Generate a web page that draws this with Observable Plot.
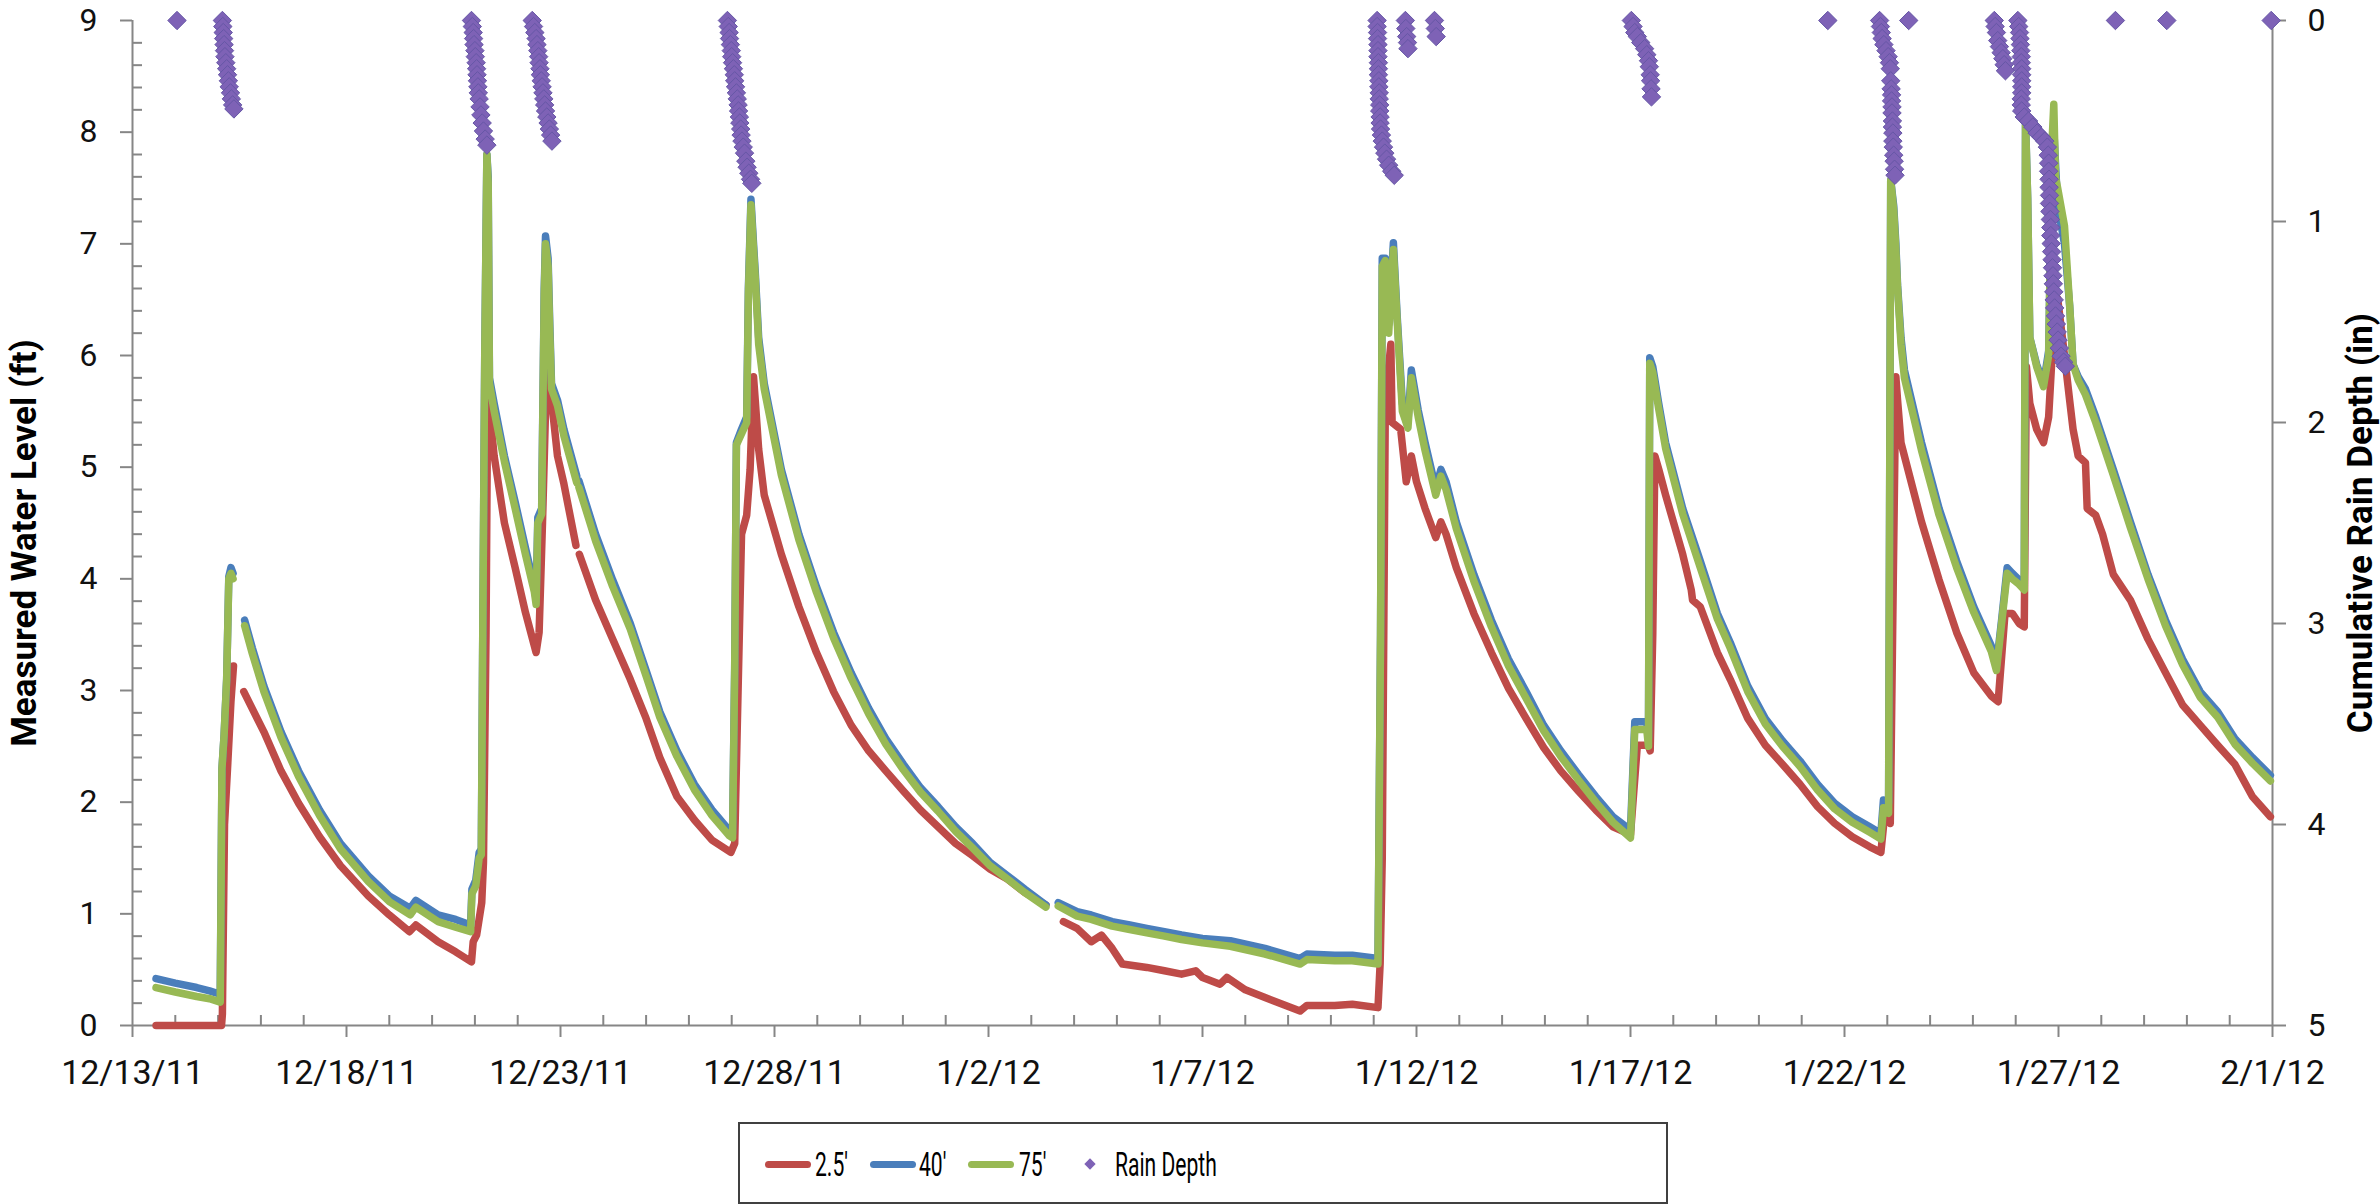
<!DOCTYPE html>
<html><head><meta charset="utf-8">
<script src="https://cdn.jsdelivr.net/npm/d3@7"></script>
<script src="https://cdn.jsdelivr.net/npm/@observablehq/plot@0.6"></script>
<style>
body{margin:0;background:#fff;}
#wrap{position:relative;width:2380px;height:1204px;overflow:hidden;background:#fff;font-family:Roboto,sans-serif;}
#legend{position:absolute;left:738px;top:1122px;width:930px;height:82px;border:2px solid #404040;box-sizing:border-box;background:#fff;}
.sw{position:absolute;top:37px;height:7px;border-radius:4px;}
.lt{position:absolute;top:20px;font-size:34px;line-height:40px;color:#000;transform:scaleX(0.62);transform-origin:left center;white-space:nowrap;}
.dm{position:absolute;width:8px;height:8px;background:#7e62b6;transform:rotate(45deg);}
</style></head><body><div id="wrap"></div>
<script>
// ---- data (day offsets from 12/13/11 00:00) ----
const startDate = "2011-12-13";
const endDate = "2012-02-01";
const xTicks = ["2011-12-13","2011-12-18","2011-12-23","2011-12-28","2012-01-02","2012-01-07","2012-01-12","2012-01-17","2012-01-22","2012-01-27","2012-02-01"];
const leftTicks = [0,1,2,3,4,5,6,7,8,9];
const rainTicks = [0,1,2,3,4,5];
const seriesNames = ["2.5'", "40'", "75'", "Rain Depth"];
const leftTitle = "Measured Water Level (ft)";
const rightTitle = "Cumulative Rain Depth (in)";

const level25 = [
[0.55,0],[1.0,0],[1.5,0],[2.08,0],[2.1,0.1],[2.15,1.8],[2.22,2.3],[2.3,2.9],[2.36,3.22],
[2.45,null],
[2.6,2.99],[3.07,2.63],[3.47,2.28],[3.88,1.99],[4.37,1.69],[4.86,1.43],[5.51,1.16],[6.0,0.99],[6.47,0.84],[6.62,0.9],[7.14,0.75],[7.55,0.66],[7.92,0.57],
[7.96,0.75],[8.04,0.81],[8.16,1.1],[8.2,1.46],[8.26,3.5],[8.3,5.8],[8.33,5.57],[8.45,5.1],[8.69,4.5],[8.94,4.1],[9.18,3.7],[9.43,3.34],[9.5,3.52],[9.58,4.51],[9.65,5.5],[9.71,6.22],[9.79,5.6],[9.93,5.1],[10.08,4.85],[10.36,4.3],[10.4,null],[10.44,4.22],[10.82,3.81],[11.22,3.46],[11.63,3.1],[12.0,2.75],[12.32,2.4],[12.72,2.05],[13.13,1.84],[13.54,1.66],[13.98,1.55],
[14.07,1.63],[14.12,2.5],[14.23,4.4],[14.35,4.57],[14.43,4.98],[14.51,5.81],[14.55,5.6],[14.63,5.16],[14.76,4.75],[15.16,4.22],[15.57,3.75],[15.98,3.34],[16.38,2.99],[16.79,2.69],[17.2,2.46],[17.6,2.28],[18.01,2.1],[18.41,1.93],[18.82,1.78],[19.23,1.63],[19.63,1.52],[20.04,1.4],[20.45,1.31],[20.85,1.19],[21.34,1.08],[21.45,null],[21.75,0.93],[22.07,0.87],[22.4,0.75],[22.64,0.81],[22.89,0.69],[23.13,0.55],[23.7,0.52],[24.11,0.49],[24.51,0.46],[24.84,0.49],[25.0,0.43],[25.41,0.37],[25.57,0.43],[26.0,0.32],[26.46,0.25],[27.28,0.13],[27.44,0.18],[28.09,0.18],[28.5,0.19],[29.1,0.16],
[29.15,0.55],[29.2,1.5],[29.27,5.5],[29.35,5.9],[29.4,6.1],[29.43,5.4],[29.63,5.34],[29.76,4.87],[29.88,5.1],[30.0,4.87],[30.2,4.63],[30.45,4.37],[30.57,4.51],[30.69,4.4],[30.93,4.1],[31.34,3.69],[31.75,3.34],[32.15,3.02],[32.56,2.75],[32.97,2.49],[33.37,2.28],[33.78,2.1],[34.19,1.93],[34.59,1.78],[35.0,1.71],
[35.16,2.51],[35.41,2.51],[35.46,2.46],[35.52,3.5],[35.57,5.1],[35.66,4.98],[35.82,4.75],[36.22,4.22],[36.42,3.9],[36.45,3.81],[36.63,3.75],[37.03,3.34],[37.33,3.1],[37.74,2.75],[38.15,2.51],[38.55,2.34],[38.96,2.16],[39.37,1.96],[39.77,1.81],[40.18,1.69],[40.59,1.6],[40.85,1.55],
[40.95,1.93],[41.07,1.81],[41.14,4.0],[41.2,5.81],[41.24,5.6],[41.32,5.22],[41.4,5.1],[41.8,4.51],[42.21,3.99],[42.62,3.52],[43.02,3.16],[43.43,2.95],[43.59,2.9],[43.75,3.69],[43.92,3.69],[44.08,3.6],[44.2,3.57],
[44.25,5.9],[44.33,5.57],[44.49,5.34],[44.65,5.22],[44.77,5.45],[44.85,6.0],[44.98,6.51],[45.14,6.0],[45.26,5.6],[45.34,5.34],[45.46,5.1],[45.63,5.04],[45.67,4.63],[45.87,4.57],[46.03,4.4],[46.28,4.04],[46.68,3.81],[47.09,3.46],[47.5,3.16],[47.9,2.87],[48.31,2.69],[48.72,2.51],[49.12,2.34],[49.53,2.05],[49.95,1.87]
];

const level40 = [
[0.55,0.42],[1.0,0.38],[1.5,0.34],[1.8,0.31],[2.05,0.28],
[2.09,2.3],[2.14,2.6],[2.2,3.1],[2.25,4.02],[2.3,4.1],[2.35,4.05],
[2.45,null],
[2.62,3.63],[2.8,3.38],[3.07,3.04],[3.47,2.63],[3.88,2.28],[4.37,1.93],[4.86,1.63],[5.51,1.34],[6.0,1.16],[6.49,1.05],[6.62,1.12],[7.14,0.99],[7.55,0.95],[7.9,0.9],
[7.93,1.22],[8.02,1.3],[8.1,1.55],[8.15,1.58],[8.18,3.3],[8.23,6.0],[8.28,7.8],[8.31,7.6],[8.34,5.8],[8.45,5.57],[8.69,5.1],[8.94,4.69],[9.18,4.28],[9.39,3.93],[9.43,3.81],[9.47,4.55],[9.56,4.63],[9.62,6.6],[9.65,7.07],[9.71,6.87],[9.75,6.28],[9.79,5.75],[9.93,5.6],[10.08,5.34],[10.38,4.92],[10.4,null],[10.43,4.88],[10.82,4.4],[11.22,3.99],[11.63,3.6],[12.0,3.18],[12.32,2.81],[12.72,2.46],[13.13,2.16],[13.54,1.93],[13.94,1.75],[14.02,1.72],
[14.07,3.2],[14.11,5.22],[14.23,5.34],[14.35,5.45],[14.39,6.6],[14.45,7.4],[14.51,7.0],[14.55,6.75],[14.63,6.16],[14.76,5.75],[15.16,4.98],[15.57,4.4],[15.98,3.93],[16.38,3.52],[16.79,3.16],[17.2,2.84],[17.6,2.57],[18.01,2.34],[18.41,2.13],[18.82,1.96],[19.23,1.78],[19.63,1.63],[20.04,1.46],[20.45,1.34],[20.85,1.22],[21.34,1.08],[21.45,null],[21.63,1.1],[22.07,1.02],[22.4,0.99],[22.89,0.93],[23.3,0.9],[23.7,0.87],[24.11,0.84],[24.51,0.81],[25.0,0.78],[25.65,0.76],[26.46,0.69],[27.28,0.6],[27.44,0.64],[28.09,0.63],[28.5,0.63],[29.1,0.6],
[29.16,3.5],[29.2,6.87],[29.27,6.87],[29.35,6.28],[29.46,7.01],[29.55,6.34],[29.67,5.57],[29.8,5.4],[29.88,5.87],[30.04,5.51],[30.2,5.22],[30.45,4.81],[30.57,4.98],[30.69,4.87],[30.93,4.51],[31.34,4.04],[31.75,3.63],[32.15,3.28],[32.56,2.99],[32.97,2.69],[33.37,2.46],[33.78,2.25],[34.19,2.05],[34.59,1.87],[35.0,1.75],
[35.1,2.72],[35.38,2.72],[35.42,2.57],[35.45,5.98],[35.52,5.9],[35.66,5.57],[35.82,5.22],[36.22,4.63],[36.63,4.16],[37.03,3.69],[37.33,3.43],[37.74,3.04],[38.15,2.75],[38.55,2.55],[38.96,2.37],[39.37,2.16],[39.77,1.99],[40.18,1.87],[40.59,1.78],[40.85,1.72],
[40.91,2.02],[41.03,1.99],[41.08,7.57],[41.15,7.34],[41.2,7.0],[41.24,6.63],[41.32,6.16],[41.4,5.87],[41.8,5.22],[42.21,4.63],[42.62,4.16],[43.02,3.75],[43.43,3.4],[43.55,3.22],[43.67,3.63],[43.8,4.1],[43.92,4.05],[44.08,3.99],[44.2,3.93],
[44.23,8.1],[44.28,7.4],[44.33,6.16],[44.49,5.92],[44.65,5.75],[44.77,6.04],[44.85,7.8],[44.9,7.95],[44.98,7.34],[45.14,7.0],[45.26,6.45],[45.34,5.92],[45.46,5.81],[45.63,5.7],[45.87,5.45],[46.28,4.98],[46.68,4.51],[47.09,4.04],[47.5,3.63],[47.9,3.28],[48.31,2.99],[48.72,2.81],[49.12,2.57],[49.53,2.4],[49.95,2.24]
];

const level75 = [
[0.55,0.34],[1.0,0.3],[1.5,0.26],[1.8,0.24],[2.05,0.21],
[2.09,2.3],[2.14,2.6],[2.2,3.1],[2.25,4.0],[2.3,4.05],[2.35,4.0],
[2.45,null],
[2.62,3.58],[2.8,3.33],[3.07,2.99],[3.47,2.58],[3.88,2.23],[4.37,1.88],[4.86,1.58],[5.51,1.29],[6.0,1.11],[6.49,0.99],[6.62,1.06],[7.14,0.93],[7.55,0.88],[7.9,0.84],
[7.93,1.18],[8.02,1.25],[8.1,1.5],[8.15,1.53],[8.18,3.3],[8.23,6.0],[8.28,7.8],[8.31,7.55],[8.34,5.75],[8.45,5.5],[8.69,5.05],[8.94,4.63],[9.18,4.22],[9.39,3.88],[9.43,3.77],[9.47,4.5],[9.56,4.58],[9.62,6.55],[9.65,7.0],[9.71,6.8],[9.75,6.2],[9.79,5.7],[9.93,5.55],[10.08,5.28],[10.38,4.86],[10.4,null],[10.43,4.82],[10.82,4.34],[11.22,3.93],[11.63,3.55],[12.0,3.13],[12.32,2.76],[12.72,2.41],[13.13,2.11],[13.54,1.88],[13.94,1.7],[14.02,1.68],
[14.07,3.2],[14.11,5.2],[14.23,5.3],[14.35,5.4],[14.39,6.55],[14.45,7.35],[14.51,6.95],[14.55,6.7],[14.63,6.1],[14.76,5.7],[15.16,4.93],[15.57,4.35],[15.98,3.88],[16.38,3.47],[16.79,3.11],[17.2,2.79],[17.6,2.52],[18.01,2.29],[18.41,2.09],[18.82,1.92],[19.23,1.74],[19.63,1.59],[20.04,1.43],[20.45,1.31],[20.85,1.19],[21.34,1.06],[21.45,null],[21.63,1.07],[22.07,0.98],[22.4,0.95],[22.89,0.89],[23.3,0.86],[23.7,0.83],[24.11,0.8],[24.51,0.77],[25.0,0.74],[25.65,0.71],[26.46,0.64],[27.28,0.55],[27.44,0.59],[28.09,0.58],[28.5,0.58],[29.1,0.55],
[29.16,3.5],[29.2,6.8],[29.27,6.85],[29.35,6.2],[29.46,6.95],[29.55,6.3],[29.67,5.5],[29.8,5.35],[29.88,5.8],[30.04,5.45],[30.2,5.15],[30.45,4.75],[30.57,4.92],[30.69,4.8],[30.93,4.45],[31.34,3.98],[31.75,3.57],[32.15,3.22],[32.56,2.93],[32.97,2.64],[33.37,2.41],[33.78,2.2],[34.19,2.0],[34.59,1.82],[35.0,1.68],
[35.1,2.65],[35.38,2.65],[35.42,2.5],[35.45,5.93],[35.52,5.85],[35.66,5.52],[35.82,5.17],[36.22,4.58],[36.63,4.1],[37.03,3.64],[37.33,3.38],[37.74,2.99],[38.15,2.7],[38.55,2.5],[38.96,2.32],[39.37,2.11],[39.77,1.94],[40.18,1.82],[40.59,1.73],[40.85,1.67],
[40.91,1.95],[41.03,1.9],[41.08,7.57],[41.15,7.3],[41.2,6.95],[41.24,6.6],[41.32,6.1],[41.4,5.8],[41.8,5.15],[42.21,4.57],[42.62,4.1],[43.02,3.7],[43.43,3.35],[43.55,3.18],[43.67,3.6],[43.8,4.05],[43.92,4.0],[44.08,3.95],[44.2,3.9],
[44.23,8.1],[44.28,7.4],[44.33,6.16],[44.49,5.9],[44.65,5.72],[44.77,6.0],[44.85,7.92],[44.89,8.25],[44.93,7.6],[44.98,7.5],[45.14,7.16],[45.26,6.45],[45.34,5.92],[45.46,5.78],[45.63,5.65],[45.87,5.4],[46.28,4.93],[46.68,4.46],[47.09,4.0],[47.5,3.58],[47.9,3.23],[48.31,2.94],[48.72,2.76],[49.12,2.52],[49.53,2.35],[49.95,2.19]
];

// cumulative rain depth (in) per storm: [day, depth]
const rainDepth = [
[1.04,0],
[2.10,0],[2.11,0.03],[2.12,0.06],[2.13,0.09],[2.14,0.12],[2.15,0.15],[2.16,0.18],[2.18,0.21],[2.2,0.24],[2.22,0.27],[2.24,0.3],[2.26,0.33],[2.29,0.36],[2.31,0.39],[2.34,0.42],[2.37,0.44],
[7.92,0],[7.94,0.03],[7.96,0.06],[7.97,0.09],[7.98,0.12],[8.0,0.15],[8.01,0.18],[8.03,0.21],[8.04,0.24],[8.05,0.27],[8.06,0.3],[8.07,0.33],[8.08,0.36],[8.1,0.39],[8.12,0.43],[8.14,0.47],[8.17,0.51],[8.2,0.55],[8.24,0.59],[8.28,0.62],
[9.34,0],[9.37,0.03],[9.4,0.06],[9.43,0.09],[9.45,0.12],[9.47,0.15],[9.49,0.18],[9.5,0.21],[9.52,0.24],[9.53,0.27],[9.55,0.3],[9.57,0.33],[9.59,0.36],[9.61,0.39],[9.63,0.42],[9.65,0.45],[9.68,0.48],[9.71,0.51],[9.74,0.54],[9.77,0.57],[9.8,0.6],
[13.9,0],[13.92,0.03],[13.94,0.06],[13.95,0.09],[13.97,0.12],[13.99,0.15],[14.0,0.18],[14.02,0.21],[14.04,0.24],[14.06,0.27],[14.07,0.3],[14.09,0.33],[14.11,0.36],[14.13,0.39],[14.15,0.42],[14.16,0.45],[14.18,0.48],[14.19,0.51],[14.21,0.54],[14.22,0.57],[14.24,0.6],[14.27,0.63],[14.3,0.66],[14.33,0.7],[14.36,0.73],[14.4,0.76],[14.44,0.79],[14.47,0.81],
[29.08,0],[29.08,0.03],[29.09,0.06],[29.09,0.09],[29.1,0.12],[29.1,0.15],[29.1,0.18],[29.11,0.21],[29.11,0.24],[29.11,0.27],[29.12,0.3],[29.12,0.33],[29.13,0.36],[29.13,0.39],[29.14,0.42],[29.14,0.45],[29.15,0.48],[29.15,0.51],[29.16,0.54],[29.18,0.57],[29.2,0.6],[29.23,0.63],[29.26,0.66],[29.3,0.69],[29.35,0.72],[29.42,0.75],[29.48,0.77],
[29.74,0],[29.75,0.04],[29.77,0.08],[29.79,0.11],[29.8,0.14],
[30.42,0],[30.44,0.04],[30.46,0.08],
[35.02,0],[35.06,0.03],[35.1,0.06],[35.16,0.08],[35.24,0.11],[35.33,0.14],[35.38,0.17],[35.42,0.2],[35.44,0.23],[35.46,0.27],[35.47,0.3],[35.48,0.34],[35.49,0.38],
[39.61,0],
[40.82,0],[40.84,0.03],[40.86,0.06],[40.88,0.09],[40.92,0.12],[40.97,0.15],[41.02,0.18],[41.05,0.21],[41.07,0.24],[41.08,0.3],[41.09,0.34],[41.1,0.37],[41.1,0.4],[41.11,0.43],[41.11,0.46],[41.12,0.5],[41.12,0.53],[41.13,0.56],[41.13,0.6],[41.14,0.63],[41.15,0.67],[41.16,0.7],[41.17,0.74],[41.18,0.77],
[41.5,0],
[43.5,0],[43.52,0.03],[43.55,0.06],[43.58,0.1],[43.62,0.13],[43.66,0.16],[43.7,0.19],[43.73,0.22],[43.76,0.25],
[44.05,0],[44.07,0.03],[44.09,0.06],[44.1,0.09],[44.11,0.12],[44.12,0.15],[44.13,0.18],[44.13,0.21],[44.14,0.24],[44.14,0.27],[44.14,0.3],[44.14,0.33],[44.14,0.36],[44.13,0.39],[44.13,0.42],[44.14,0.45],[44.2,0.48],[44.3,0.5],[44.4,0.53],[44.5,0.56],[44.6,0.58],[44.68,0.6],[44.74,0.63],[44.76,0.67],[44.77,0.71],[44.77,0.75],[44.78,0.79],[44.78,0.83],[44.79,0.87],[44.79,0.91],[44.8,0.95],[44.81,0.99],[44.82,1.03],[44.82,1.07],[44.83,1.11],[44.84,1.15],[44.85,1.19],[44.86,1.23],[44.87,1.27],[44.88,1.31],[44.89,1.35],[44.9,1.39],[44.91,1.43],[44.93,1.47],[44.95,1.51],[44.97,1.55],[44.99,1.59],[45.02,1.63],[45.06,1.67],[45.12,1.7],[45.16,1.72],
[46.33,0],[47.53,0],[49.97,0]
];

const colors = {red: "#be4b48", blue: "#4a7ebb", green: "#98b954", rain: "#7e62b6"};

// ---- helpers ----
const base = new Date(startDate).getTime();
const toDate = d => new Date(base + d * 864e5);
const yMax = 9, rainMax = 5;
const rainToY = r => yMax - r * (yMax / rainMax);

const xDomain = [new Date(startDate), new Date(endDate)];
const dayTicks = d3.utcDay.range(xDomain[0], d3.utcDay.offset(xDomain[1], 1)).filter(d => !xTicks.includes(d3.utcFormat("%Y-%m-%d")(d)));
const leftMinor = d3.range(0, 45).map(i => i / 5).filter(v => v % 1 !== 0);
const fmt = d3.utcFormat("%-m/%-d/%y");
const axisGray = "#868686";

const series = [[level25, colors.red], [level40, colors.blue], [level75, colors.green]];

const chart = Plot.plot({
  width: 2380, height: 1110,
  marginLeft: 132, marginRight: 108, marginTop: 20, marginBottom: 85,
  style: {fontFamily: 'Roboto, sans-serif', fontSize: "32px", color: "#111", background: "white", overflow: "visible"},
  x: {type: "utc", domain: xDomain},
  y: {domain: [0, yMax]},
  marks: [
    Plot.axisY(leftMinor, {anchor: "left", tickSize: 10, dx: 10, fill: "none", stroke: axisGray, strokeWidth: 2}),
    Plot.axisY(leftTicks, {anchor: "left", tickSize: 12, tickPadding: 23, stroke: axisGray, strokeWidth: 2, fill: "#111", label: null, tickFormat: d => String(d)}),
    Plot.axisY(rainTicks.map(rainToY), {anchor: "right", tickSize: 13, tickPadding: 22, stroke: axisGray, strokeWidth: 2, fill: "#111", label: null, tickFormat: v => String(Math.round((yMax - v) * rainMax / yMax))}),
    Plot.axisX(dayTicks, {anchor: "bottom", tickSize: 10, dy: -10, fill: "none", stroke: axisGray, strokeWidth: 2}),
    Plot.axisX(xTicks.map(s => new Date(s)), {anchor: "bottom", tickSize: 12, tickPadding: 22, fontSize: 34, stroke: axisGray, strokeWidth: 2, fill: "#111", label: null, tickFormat: fmt}),
    Plot.ruleX([xDomain[0], xDomain[1]], {stroke: axisGray, strokeWidth: 2}),
    Plot.ruleY([0], {stroke: axisGray, strokeWidth: 2}),
    ...series.map(([data, c]) => Plot.line(data, {x: d => toDate(d[0]), y: d => d[1], stroke: c, strokeWidth: 7.5, strokeLinecap: "round", strokeLinejoin: "round"})),
    Plot.dot(rainDepth, {x: d => toDate(d[0]), y: d => rainToY(d[1]), symbol: "diamond2", r: 8.3, fill: colors.rain, stroke: "#6657a6", strokeWidth: 1}),
    Plot.text([leftTitle], {frameAnchor: "left", textAnchor: "middle", dx: -108, dy: 20, rotate: -90, fontWeight: "bold", fontSize: 35, fill: "#000"}),
    Plot.text([rightTitle], {frameAnchor: "right", textAnchor: "middle", dx: 88, dy: 0, rotate: -90, fontWeight: "bold", fontSize: 35, fill: "#000"})
  ]
});

const wrap = document.getElementById("wrap");
wrap.appendChild(chart);

// ---- legend ----
const legend = document.createElement("div");
legend.id = "legend";
const items = [
  {type: "line", color: colors.red, label: seriesNames[0], sw: 25, tx: 75},
  {type: "line", color: colors.blue, label: seriesNames[1], sw: 130, tx: 179},
  {type: "line", color: colors.green, label: seriesNames[2], sw: 228, tx: 279},
  {type: "dot", color: colors.rain, label: seriesNames[3], sw: 346, tx: 375}
];
for (const it of items) {
  if (it.type === "line") {
    const s = document.createElement("div");
    s.className = "sw"; s.style.left = it.sw + "px"; s.style.width = "46px"; s.style.background = it.color;
    legend.appendChild(s);
  } else {
    const s = document.createElement("div");
    s.className = "dm"; s.style.left = it.sw + "px"; s.style.top = "36px";
    legend.appendChild(s);
  }
  const t = document.createElement("span");
  t.className = "lt"; t.style.left = it.tx + "px"; t.textContent = it.label;
  legend.appendChild(t);
}
wrap.appendChild(legend);
</script></body></html>
